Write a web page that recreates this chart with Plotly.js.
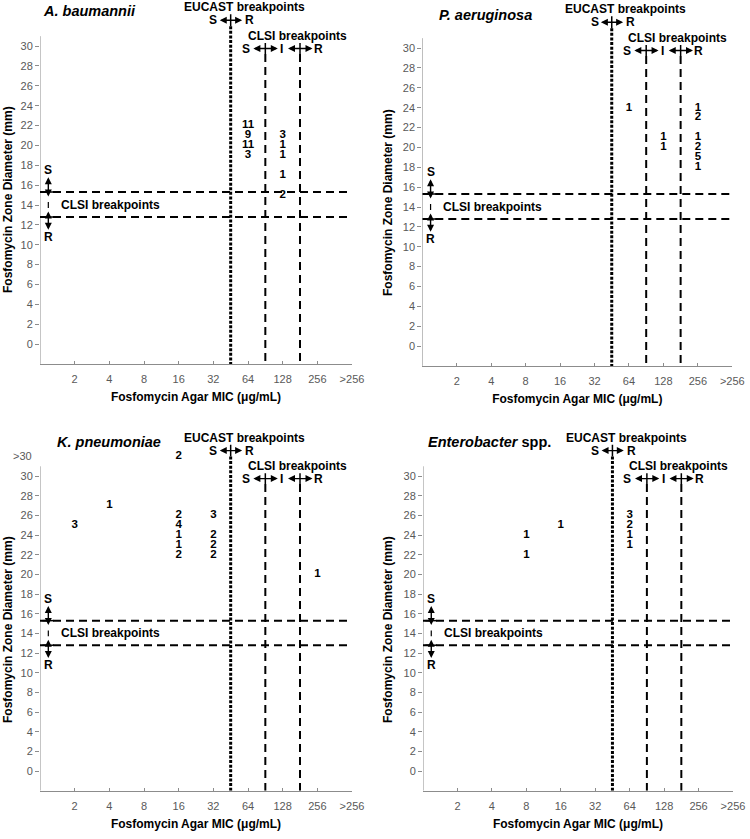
<!DOCTYPE html>
<html>
<head>
<meta charset="utf-8">
<script src="https://cdn.plot.ly/plotly-3.0.1.min.js"></script>
<style>html,body{margin:0;padding:0;background:#fff}</style>
</head>
<body>
<div id="chart" style="width:750px;height:839px"></div>
<script>
// ---- data ----
const micLabels = ['2','4','8','16','32','64','128','256','>256'];
const zoneTicks = [0,2,4,6,8,10,12,14,16,18,20,22,24,26,28,30];
const zoneOverflow = '>30';

const abMic   = ['64','64','64','64','128','128','128','128','128'];
const abZone  = [22,21,20,19,21,20,19,17,15];
const abCount = [11,9,11,3,3,1,1,1,2];

const paMic   = ['64','128','128','256','256','256','256','256','256'];
const paZone  = [24,21,20,24,23,21,20,19,18];
const paCount = [1,1,1,1,2,1,2,5,1];

const kpMic   = ['16','4','2','16','16','16','16','16','32','32','32','32','256'];
const kpZone  = ['>30',27,25,26,25,24,23,22,26,24,23,22,20];
const kpCount = [2,1,3,2,4,1,1,2,3,2,2,2,1];

const enMic   = ['8','8','16','64','64','64','64'];
const enZone  = [24,22,25,26,25,24,23];
const enCount = [1,1,1,3,2,1,1];

const eucastMicBreak = 4.5;          // between 32 and 64
const clsiMicBreaks = [5.5, 6.5];    // between 64/128 and 128/256
const clsiZoneBreaks = [15.3, 12.8];

// ---- layout helpers ----
const W = 750, H = 839;
const px = v => v / W;
const py = v => 1 - v / H;
const overflowPos = 32;
const xi = c => micLabels.indexOf(c);
const yv = z => (z === zoneOverflow ? overflowPos : z);

const panels = [
  {title:'<b><i>A. baumannii</i></b>', mic:abMic, zone:abZone, count:abCount,
   xd:[px(40), px(352)], yd:[py(363.9), py(1.4)], titleX:-0.97, titleY:33.5,
   ytX:8, ytY:200, overflow:false},
  {title:'<b><i>P. aeruginosa</i></b>', mic:paMic, zone:paZone, count:paCount,
   xd:[px(422.3), px(732.3)], yd:[py(365.9), py(3.4)], titleX:-0.58, titleY:33.3,
   ytX:388, ytY:203, overflow:false},
  {title:'<b><i>K. pneumoniae</i></b>', mic:kpMic, zone:kpZone, count:kpCount,
   xd:[px(40), px(352)], yd:[py(790.7), py(431.9)], titleX:-0.57, titleY:33.5,
   ytX:8, ytY:630, overflow:true},
  {title:'<b><i>Enterobacter</i> spp.</b>', mic:enMic, zone:enZone, count:enCount,
   xd:[px(423), px(733)], yd:[py(790.7), py(431.9)], titleX:-0.92, titleY:33.5,
   ytX:388, ytY:630, overflow:false}
];

const FONT = 'Liberation Sans, Arial, sans-serif';
const GRAY = '#8c8c8c';
const TICKC = '#595959';

const traces = [];
const shapes = [];
const annotations = [];
const layout = {
  width: W, height: H, margin:{l:0,r:0,t:0,b:0},
  paper_bgcolor:'#fff', plot_bgcolor:'rgba(0,0,0,0)',
  showlegend:false, font:{family:FONT, color:'#000'},
  shapes, annotations
};

function hArrow(xa, ya, xc, y, half) {
  annotations.push({xref:xa, yref:ya, axref:xa, ayref:ya, x:xc+half, y:y, ax:xc-half, ay:y,
    text:' ', font:{size:1}, borderpad:0, showarrow:true, arrowside:'end+start',
    arrowhead:2, arrowsize:1, arrowwidth:1.4, arrowcolor:'#000', standoff:0, startstandoff:0});
}
function vArrow(xa, ya, x, y0, y1) {
  annotations.push({xref:xa, yref:ya, axref:xa, ayref:ya, x:x, y:y1, ax:x, ay:y0,
    text:' ', font:{size:1}, borderpad:0, showarrow:true, arrowside:'end+start',
    arrowhead:2, arrowsize:1, arrowwidth:1.4, arrowcolor:'#000', standoff:0, startstandoff:0});
}
function txt(xa, ya, x, y, t, opts) {
  annotations.push(Object.assign({xref:xa, yref:ya, x:x, y:y, text:t, showarrow:false,
    xanchor:'center', yanchor:'middle',
    font:{size:12, family:FONT, color:'#000'}}, opts || {}));
}
function line(xa, ya, x0, y0, x1, y1, w, dash) {
  shapes.push({type:'line', xref:xa, yref:ya, x0, y0, x1, y1,
    line:{color:'#000', width:w, dash:dash || 'solid'}, layer:'above'});
}

panels.forEach((p, i) => {
  const n = i === 0 ? '' : String(i + 1);
  const xa = 'x' + n, ya = 'y' + n;
  traces.push({
    type:'scatter', mode:'text', xaxis:xa, yaxis:ya,
    x: p.mic.map(xi), y: p.zone.map(yv), text: p.count.map(String),
    textposition:'middle center', cliponaxis:false, hoverinfo:'skip',
    textfont:{family:FONT, size:11.5, color:'#000', weight:'bold'}
  });
  layout['xaxis' + n] = {
    domain:p.xd, anchor:ya, range:[-1, 8], tickmode:'array',
    tickvals: micLabels.map((_, k) => k), ticktext: micLabels,
    ticks:'inside', ticklen:3, tickcolor:GRAY, showline:true, linecolor:GRAY, linewidth:1,
    showgrid:false, zeroline:false, fixedrange:true, ticklabelstandoff:5,
    tickfont:{size:11, color:TICKC, family:FONT},
    title:{text:'<b>Fosfomycin Agar MIC (μg/mL)</b>', font:{size:12, color:'#000', family:FONT}, standoff:8}
  };
  layout['yaxis' + n] = {
    domain:p.yd, anchor:xa, range:[-2, 34.5], tickmode:'array', tickvals:zoneTicks,
    ticktext: zoneTicks.map(String),
    ticks:'outside', ticklen:4, tickcolor:GRAY, showline:false, showgrid:false, zeroline:false,
    fixedrange:true, tickfont:{size:11, color:TICKC, family:FONT}
  };
  // y axis line (stops at 31)
  shapes.push({type:'line', xref:xa, yref:ya, x0:-1, x1:-1, y0:-2, y1:31,
    line:{color:GRAY, width:1}, layer:'above'});
  if (p.overflow) {
    txt(xa, ya, -1, overflowPos, zoneOverflow, {xanchor:'right', xshift:-6,
      font:{size:11, color:TICKC, family:FONT}});
  }
  // y axis title
  txt('paper', 'paper', px(p.ytX), py(p.ytY), '<b>Fosfomycin Zone Diameter (mm)</b>',
    {textangle:-90, font:{size:12, family:FONT, color:'#000'}});
  // panel title
  txt(xa, ya, p.titleX, p.titleY, p.title, {xanchor:'left', font:{size:14.5, family:FONT, color:'#000'}});

  // EUCAST breakpoint
  line(xa, ya, eucastMicBreak, 32.0, eucastMicBreak, -2, 3, '3px,1.6px');
  line(xa, ya, eucastMicBreak, 33.2, eucastMicBreak, 32.0, 1.5);
  hArrow(xa, ya, eucastMicBreak, 32.6, 0.33);
  txt(xa, ya, 4.9, 33.9, '<b>EUCAST breakpoints</b>');
  txt(xa, ya, 4.0, 32.6, '<b>S</b>');
  txt(xa, ya, 5.05, 32.6, '<b>R</b>');

  // CLSI MIC breakpoints
  clsiMicBreaks.forEach(b => {
    line(xa, ya, b, 29.2, b, -2, 2, '8px,5px');
    line(xa, ya, b, 30.3, b, 29.2, 1.5);
    hArrow(xa, ya, b, 29.75, 0.36);
  });
  txt(xa, ya, 6.42, 31.0, '<b>CLSI breakpoints</b>');
  txt(xa, ya, 4.93, 29.75, '<b>S</b>');
  txt(xa, ya, 5.97, 29.75, '<b>I</b>');
  txt(xa, ya, 7.03, 29.75, '<b>R</b>');

  // CLSI zone breakpoints
  clsiZoneBreaks.forEach(b => {
    line(xa, ya, -1, b, 8, b, 2, '8px,5px');
    line(xa, ya, -0.93, b, -0.6, b, 1.5);
  });
  const ax = -0.76;
  vArrow(xa, ya, ax, 14.75, 16.8);
  vArrow(xa, ya, ax, 11.4, 13.35);
  line(xa, ya, ax, 14.3, ax, 13.7, 1.2);
  txt(xa, ya, ax, 17.5, '<b>S</b>');
  txt(xa, ya, ax, 10.8, '<b>R</b>');
  txt(xa, ya, -0.45, 14.05, '<b>CLSI breakpoints</b>', {xanchor:'left'});
});

Plotly.newPlot('chart', traces, layout, {staticPlot:true, displayModeBar:false});
</script>
</body>
</html>
